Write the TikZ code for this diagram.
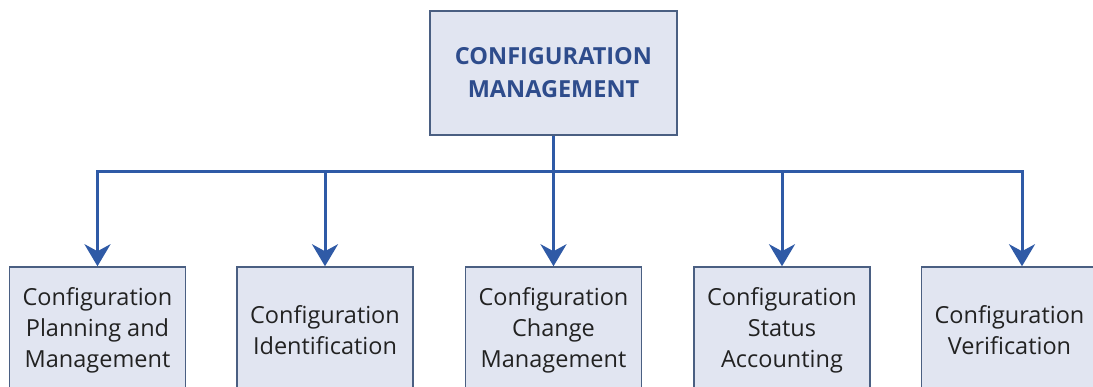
\documentclass[tikz,border=0pt]{standalone}
\usepackage{fontspec}
\setmainfont{Open Sans}
\usetikzlibrary{arrows.meta}
\definecolor{boxfill}{HTML}{E1E5F1}
\definecolor{boxline}{HTML}{4A5F82}
\definecolor{arrowc}{HTML}{2F5AA6}
\definecolor{titlec}{HTML}{2E4C8C}
\definecolor{textc}{HTML}{222222}
\begin{document}
\begin{tikzpicture}[x=1pt,y=1pt,
  box/.style={draw=boxline, line width=1.5pt, fill=boxfill, minimum width=176pt, minimum height=126pt, align=center, inner sep=0pt, font=\fontsize{23.5}{31}\selectfont, text=textc},
  conn/.style={draw=arrowc, line width=3pt},
  tip/.style={-{Stealth[length=22pt,width=26pt,inset=7pt]}}]
\useasboundingbox (0,0) rectangle (1093,387);
\fill[white] (0,0) rectangle (1093,387);
\node[box, minimum width=247pt, minimum height=124pt, font=\bfseries\fontsize{23.5}{33}\selectfont, text=titlec] (cm) at (553.5,314) {CONFIGURATION\\MANAGEMENT};
\node[box] (b1) at (97.5,57) {Configuration\\Planning and\\Management};
\node[box] (b2) at (325,57) {Configuration\\Identification};
\node[box] (b3) at (553.5,57) {Configuration\\Change\\Management};
\node[box] (b4) at (782,57) {Configuration\\Status\\Accounting};
\node[box] (b5) at (1009.5,57) {Configuration\\Verification};
\coordinate (bus) at (553.5,215);
\coordinate (a5) at ([xshift=12.5pt]b5.north);
\draw[conn] (cm.south) -- (bus);
\draw[conn,tip] (bus) -| (b1.north);
\draw[conn,tip] (bus) -| (a5);
\draw[conn,tip] (bus -| b2.north) -- (b2.north);
\draw[conn,tip] (bus) -- (b3.north);
\draw[conn,tip] (bus -| b4.north) -- (b4.north);
\end{tikzpicture}
\end{document}
